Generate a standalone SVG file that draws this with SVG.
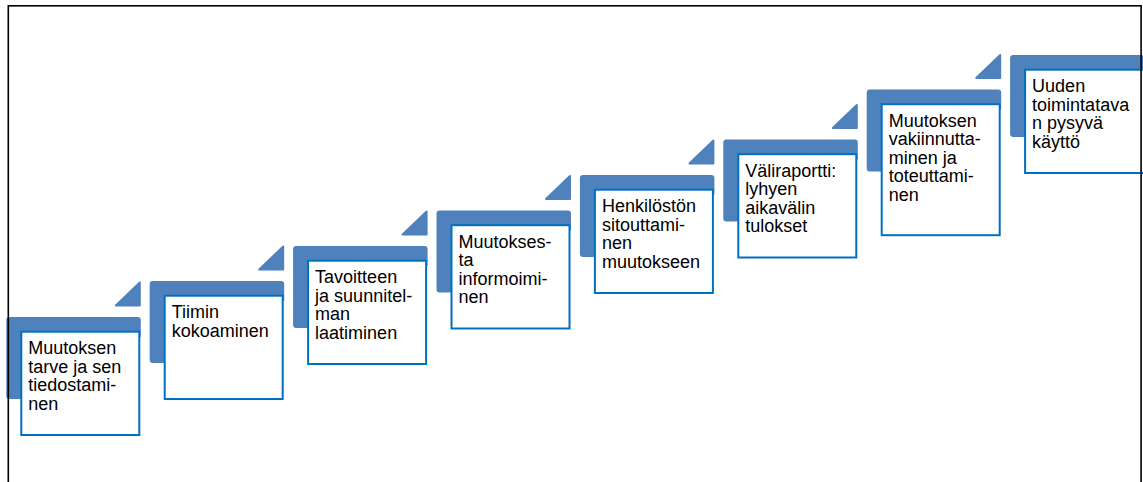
<svg xmlns="http://www.w3.org/2000/svg" width="1143" height="482" viewBox="0 0 1143 482">
<style>
.bar{fill:#4F81BD}
.tri{fill:#4F81BD;stroke:#4F81BD;stroke-width:2;stroke-linejoin:round}
.box{fill:#FFFFFF;stroke:#0070C0;stroke-width:2}
.t{font-family:"Liberation Sans",Arial,sans-serif;font-size:18px;fill:#000000}
.frame{fill:none;stroke:#000000;stroke-width:1.6}
</style>
<defs>
<path id="corner" d="M3,0 H131.5 Q134.5,0 134.5,3 V20 H20 V79 Q20,82 17,82 H3 Q0,82 0,79 V3 Q0,0 3,0 Z"/>
<polygon id="arrow" points="109.5,-11.5 133.5,-34.5 133.5,-11.5"/>
</defs>
<rect width="1143" height="482" fill="#FFFFFF"/>
<g id="connectors">
<use href="#arrow" class="tri" transform="translate(6.3,317)"/>
<use href="#arrow" class="tri" transform="translate(149.7,281)"/>
<use href="#arrow" class="tri" transform="translate(293.1,246)"/>
<use href="#arrow" class="tri" transform="translate(436.5,210.5)"/>
<use href="#arrow" class="tri" transform="translate(579.9,175)"/>
<use href="#arrow" class="tri" transform="translate(723.3,139.5)"/>
<use href="#arrow" class="tri" transform="translate(866.7,89.5)"/>
</g>
<g id="step1" transform="translate(6.3,317)">
<use href="#corner" class="bar"/>
<rect class="box" x="15" y="14.7" width="118" height="103.3"/>
<text class="t" x="22" y="37">Muutoksen</text>
<text class="t" x="22" y="55.6">tarve ja sen</text>
<text class="t" x="22" y="74.2">tiedostami-</text>
<text class="t" x="22" y="92.8">nen</text>
</g>
<g id="step2" transform="translate(149.7,281)">
<use href="#corner" class="bar"/>
<rect class="box" x="15" y="14.7" width="118" height="103.3"/>
<text class="t" x="22" y="37">Tiimin</text>
<text class="t" x="22" y="55.6">kokoaminen</text>
</g>
<g id="step3" transform="translate(293.1,246)">
<use href="#corner" class="bar"/>
<rect class="box" x="15" y="14.7" width="118" height="103.3"/>
<text class="t" x="22" y="37">Tavoitteen</text>
<text class="t" x="22" y="55.6">ja suunnitel-</text>
<text class="t" x="22" y="74.2">man</text>
<text class="t" x="22" y="92.8">laatiminen</text>
</g>
<g id="step4" transform="translate(436.5,210.5)">
<use href="#corner" class="bar"/>
<rect class="box" x="15" y="14.7" width="118" height="103.3"/>
<text class="t" x="22" y="37">Muutokses-</text>
<text class="t" x="22" y="55.6">ta</text>
<text class="t" x="22" y="74.2">informoimi-</text>
<text class="t" x="22" y="92.8">nen</text>
</g>
<g id="step5" transform="translate(579.9,175)">
<use href="#corner" class="bar"/>
<rect class="box" x="15" y="14.7" width="118" height="103.3"/>
<text class="t" x="22" y="37">Henkilöstön</text>
<text class="t" x="22" y="55.6">sitouttami-</text>
<text class="t" x="22" y="74.2">nen</text>
<text class="t" x="22" y="92.8">muutokseen</text>
</g>
<g id="step6" transform="translate(723.3,139.5)">
<use href="#corner" class="bar"/>
<rect class="box" x="15" y="14.7" width="118" height="103.3"/>
<text class="t" x="22" y="37">Väliraportti:</text>
<text class="t" x="22" y="55.6">lyhyen</text>
<text class="t" x="22" y="74.2">aikavälin</text>
<text class="t" x="22" y="92.8">tulokset</text>
</g>
<g id="step7" transform="translate(866.7,89.5)">
<use href="#corner" class="bar"/>
<rect class="box" x="15" y="14.7" width="118" height="131"/>
<text class="t" x="22" y="37">Muutoksen</text>
<text class="t" x="22" y="55.6">vakiinnutta-</text>
<text class="t" x="22" y="74.2">minen ja</text>
<text class="t" x="22" y="92.8">toteuttami-</text>
<text class="t" x="22" y="111.4">nen</text>
</g>
<g id="step8" transform="translate(1010.1,55)">
<use href="#corner" class="bar"/>
<rect class="box" x="15" y="14.7" width="130" height="103.3"/>
<text class="t" x="22" y="37">Uuden</text>
<text class="t" x="22" y="55.6">toimintatava</text>
<text class="t" x="22" y="74.2">n pysyvä</text>
<text class="t" x="22" y="92.8">käyttö</text>
</g>
<rect class="frame" x="8.3" y="5.8" width="1132.8" height="490"/>
</svg>
